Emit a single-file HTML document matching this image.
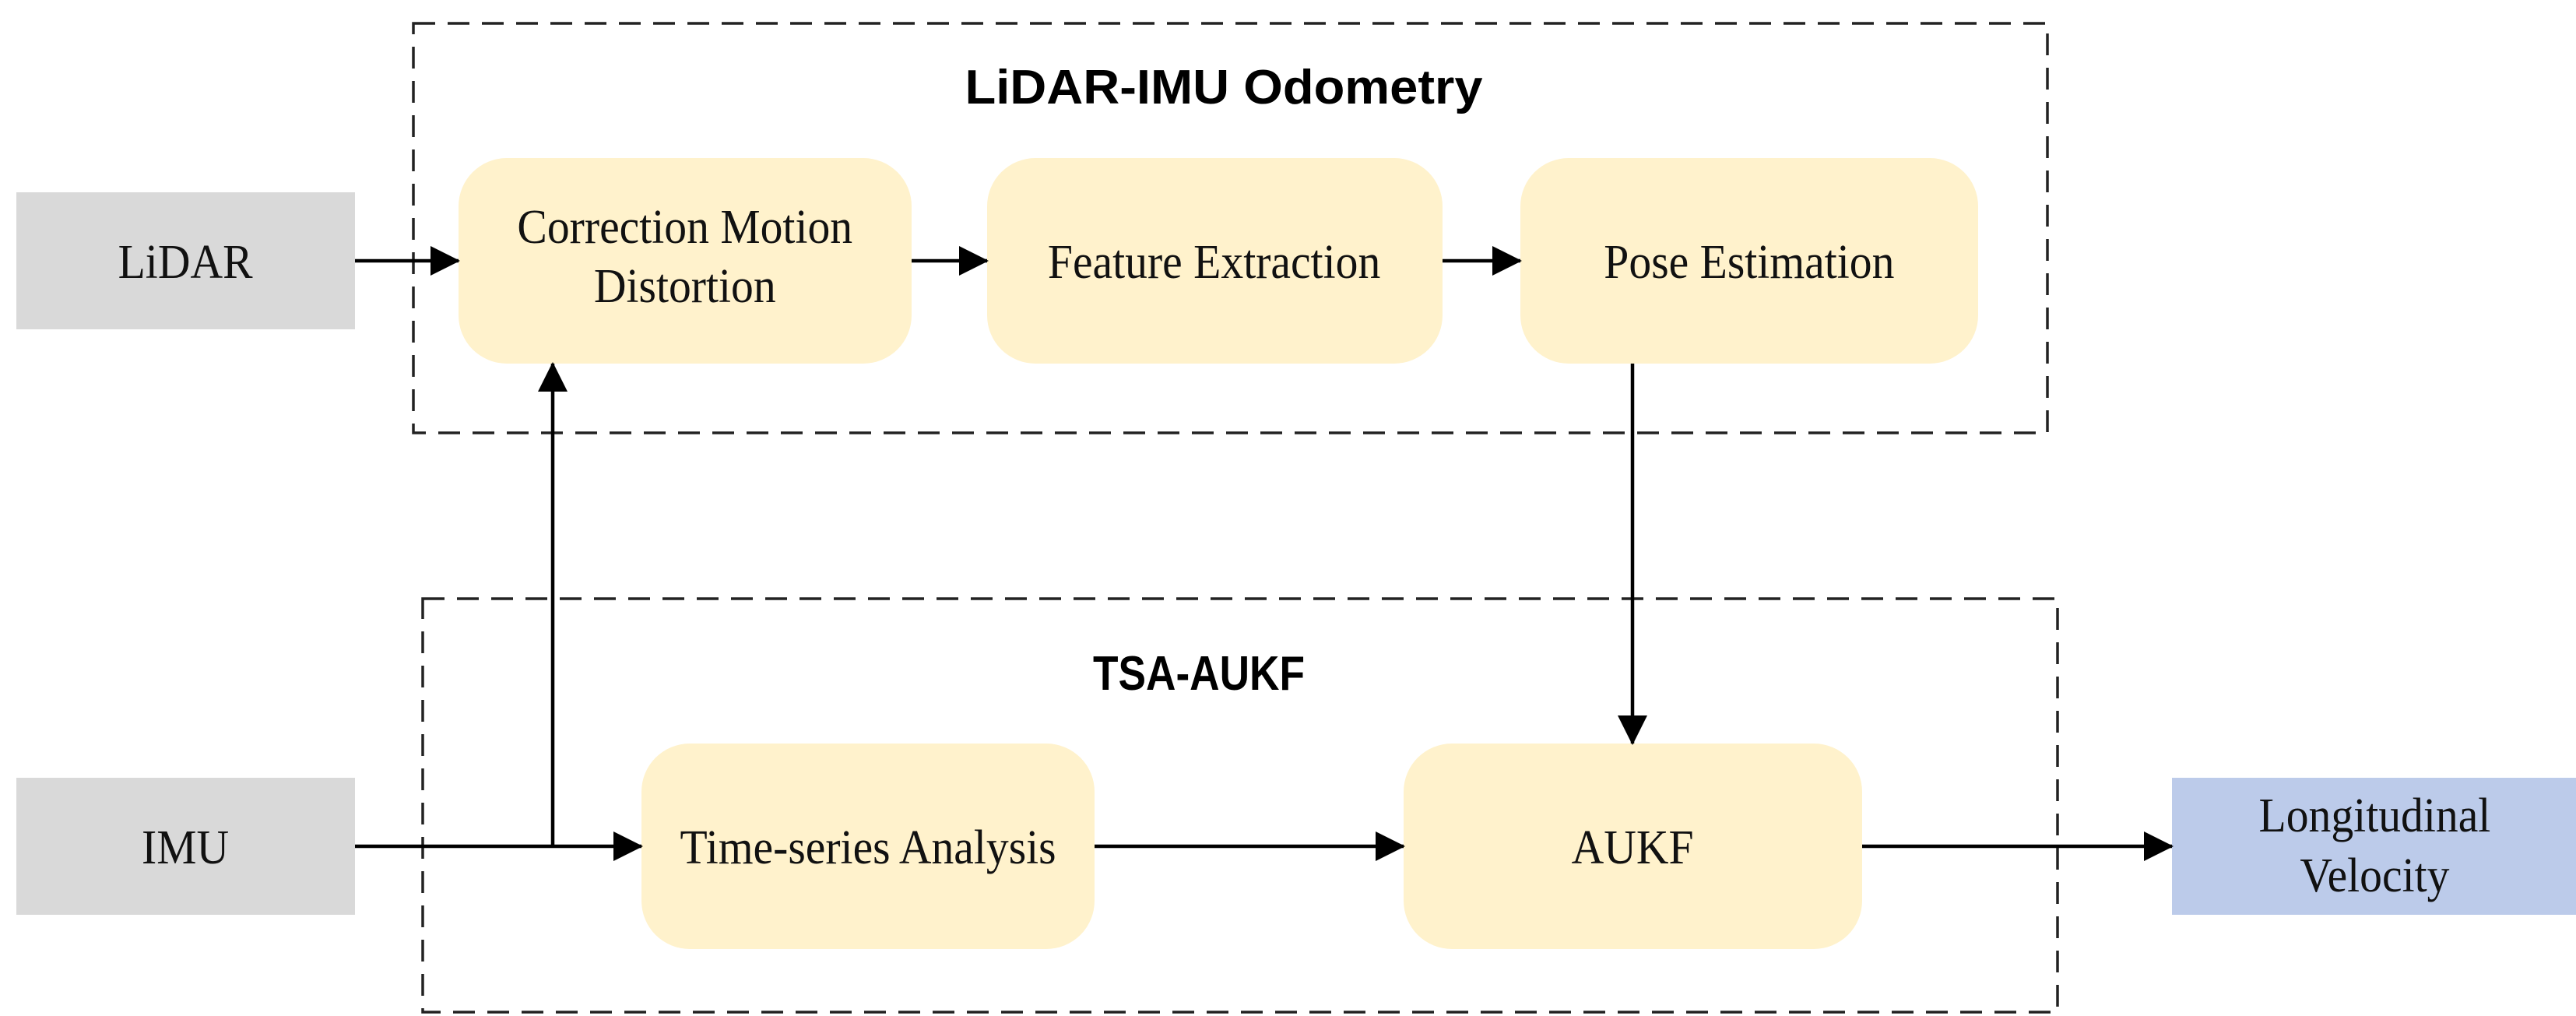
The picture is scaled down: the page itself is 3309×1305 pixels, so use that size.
<!DOCTYPE html>
<html><head><style>
body{margin:0;background:#fff}
svg{display:block}
.n{font-family:"Liberation Serif",serif;font-size:62px;fill:#111}
.t{font-family:"Liberation Sans",sans-serif;font-weight:bold;font-size:62px;fill:#000}
</style></head><body>
<svg width="3309" height="1305" viewBox="0 0 3309 1305" xmlns="http://www.w3.org/2000/svg">
<defs>
<marker id="b" markerWidth="38" markerHeight="38" refX="36" refY="19" orient="auto" markerUnits="userSpaceOnUse"><path d="M0,0 L38,19 L0,38 z" fill="#000"/></marker></defs>
<g fill="none" stroke="#222" stroke-width="3.5" stroke-dasharray="28,16">
<rect x="531" y="30" width="2099" height="526"/>
<rect x="543" y="769" width="2100" height="531"/>
</g>
<rect x="21" y="247" width="435" height="176" fill="#d9d9d9"/>
<rect x="21" y="999" width="435" height="176" fill="#d9d9d9"/>
<rect x="2790" y="999" width="519" height="176" fill="#bccbea"/>
<g fill="#fff2cc">
<rect x="589" y="203" width="582" height="264" rx="62"/>
<rect x="1268" y="203" width="585" height="264" rx="62"/>
<rect x="1953" y="203" width="588" height="264" rx="62"/>
<rect x="824" y="955" width="582" height="264" rx="62"/>
<rect x="1803" y="955" width="589" height="264" rx="62"/>
</g>
<g stroke="#000" stroke-width="4.5" fill="none" marker-end="url(#b)">
<line x1="456" y1="335" x2="589" y2="335"/>
<line x1="1171" y1="335" x2="1268" y2="335"/>
<line x1="1853" y1="335" x2="1953" y2="335"/>
<line x1="456" y1="1087" x2="824" y2="1087"/>
<line x1="710" y1="1087" x2="710" y2="467"/>
<line x1="2097" y1="467" x2="2097" y2="955"/>
<line x1="1406" y1="1087" x2="1803" y2="1087"/>
<line x1="2392" y1="1087" x2="2790" y2="1087"/>
</g>
<text class="t" x="1572" y="133" text-anchor="middle" textLength="665" lengthAdjust="spacingAndGlyphs">LiDAR-IMU Odometry</text>
<text class="t" x="1540" y="886" text-anchor="middle" textLength="272" lengthAdjust="spacingAndGlyphs">TSA-AUKF</text>
<g class="n" text-anchor="middle" transform="scale(0.93,1)">
<text x="256" y="357">LiDAR</text>
<text x="256" y="1109">IMU</text>
<text x="946" y="312">Correction Motion</text>
<text x="946" y="388">Distortion</text>
<text x="1677" y="357">Feature Extraction</text>
<text x="2416" y="357">Pose Estimation</text>
<text x="1199" y="1109">Time-series Analysis</text>
<text x="2255" y="1109">AUKF</text>
<text x="3280" y="1068">Longitudinal</text>
<text x="3280" y="1145">Velocity</text>
</g>
</svg>
</body></html>
